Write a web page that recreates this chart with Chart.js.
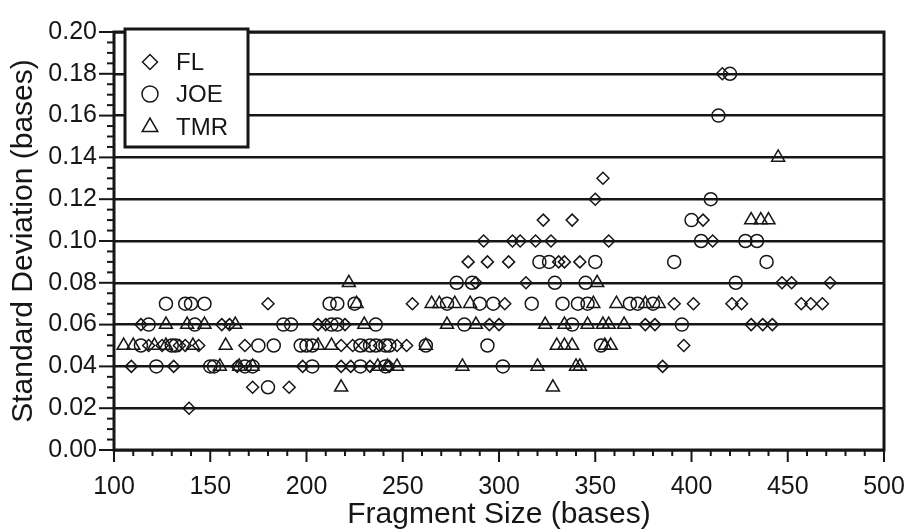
<!DOCTYPE html>
<html>
<head>
<meta charset="utf-8">
<script src="https://cdn.jsdelivr.net/npm/chart.js@4.4.0/dist/chart.umd.min.js"></script>
<style>
  html, body { margin: 0; padding: 0; background: #fff; }
  #wrap { width: 908px; height: 530px; }
</style>
</head>
<body>
<div id="wrap"><canvas id="sdChart"></canvas></div>
<script>
const seriesNames = ['FL', 'JOE', 'TMR'];

// FL - diamonds
const flSize = [139,
  172, 191,
  109, 131, 164, 198, 218, 223, 233, 243, 385,
  118, 125, 134, 137, 144, 168, 218, 224, 230, 238, 247, 252, 396,
  114, 156, 160, 206, 210, 220, 295, 300, 376, 381, 431, 437, 442,
  180, 255, 303, 391, 401, 421, 426, 457, 462, 468,
  288, 314, 447, 452, 472,
  284, 294, 305, 331, 334, 342,
  292, 307, 311, 319, 327, 357, 411,
  323, 338, 406,
  350, 354, 416];
const flSD = [0.02,
  0.03, 0.03,
  0.04, 0.04, 0.04, 0.04, 0.04, 0.04, 0.04, 0.04, 0.04,
  0.05, 0.05, 0.05, 0.05, 0.05, 0.05, 0.05, 0.05, 0.05, 0.05, 0.05, 0.05, 0.05,
  0.06, 0.06, 0.06, 0.06, 0.06, 0.06, 0.06, 0.06, 0.06, 0.06, 0.06, 0.06, 0.06,
  0.07, 0.07, 0.07, 0.07, 0.07, 0.07, 0.07, 0.07, 0.07, 0.07,
  0.08, 0.08, 0.08, 0.08, 0.08,
  0.09, 0.09, 0.09, 0.09, 0.09, 0.09,
  0.10, 0.10, 0.10, 0.10, 0.10, 0.10, 0.10,
  0.11, 0.11, 0.11,
  0.12, 0.13, 0.18];

// JOE - circles
const joeSize = [180,
  122, 150, 152, 168, 172, 203, 228, 241, 302,
  114, 130, 132, 175, 183, 197, 200, 203, 228, 233, 236, 241, 243, 262, 294, 353,
  118, 142, 188, 192, 213, 216, 236, 282, 338, 395,
  127, 137, 140, 147, 212, 216, 225, 273, 290, 297, 317, 333, 341, 346, 368, 372, 380,
  278, 286, 329, 345, 423,
  321, 326, 350, 391, 439,
  405, 428, 434,
  400, 410, 414, 420];
const joeSD = [0.03,
  0.04, 0.04, 0.04, 0.04, 0.04, 0.04, 0.04, 0.04, 0.04,
  0.05, 0.05, 0.05, 0.05, 0.05, 0.05, 0.05, 0.05, 0.05, 0.05, 0.05, 0.05, 0.05, 0.05, 0.05, 0.05,
  0.06, 0.06, 0.06, 0.06, 0.06, 0.06, 0.06, 0.06, 0.06, 0.06,
  0.07, 0.07, 0.07, 0.07, 0.07, 0.07, 0.07, 0.07, 0.07, 0.07, 0.07, 0.07, 0.07, 0.07, 0.07, 0.07, 0.07,
  0.08, 0.08, 0.08, 0.08, 0.08,
  0.09, 0.09, 0.09, 0.09, 0.09,
  0.10, 0.10, 0.10,
  0.11, 0.12, 0.16, 0.18];

// TMR - triangles
const tmrSize = [218, 328,
  155, 165, 172, 237, 242, 247, 281, 320, 340, 342,
  105, 110, 121, 127, 141, 158, 206, 213, 262, 330, 334, 338, 355, 358,
  127, 138, 147, 163, 230, 273, 288, 324, 334, 346, 354, 357, 365,
  226, 265, 269, 277, 285, 349, 361, 376, 383,
  222, 351,
  431, 436, 440,
  445];
const tmrSD = [0.03, 0.03,
  0.04, 0.04, 0.04, 0.04, 0.04, 0.04, 0.04, 0.04, 0.04, 0.04,
  0.05, 0.05, 0.05, 0.05, 0.05, 0.05, 0.05, 0.05, 0.05, 0.05, 0.05, 0.05, 0.05, 0.05,
  0.06, 0.06, 0.06, 0.06, 0.06, 0.06, 0.06, 0.06, 0.06, 0.06, 0.06, 0.06, 0.06,
  0.07, 0.07, 0.07, 0.07, 0.07, 0.07, 0.07, 0.07, 0.07,
  0.08, 0.08,
  0.11, 0.11, 0.11,
  0.14];

const ink = '#161616';
const fontFamily = '"Liberation Sans", Arial, Helvetica, sans-serif';

function pairs(xs, ys) {
  return xs.map((v, i) => ({x: v, y: ys[i]}));
}

const styles = [
  {pointStyle: 'rectRot', radius: 6},
  {pointStyle: 'circle', radius: 6.5},
  {pointStyle: 'triangle', radius: 7.5}
];

// frame, minor ticks and the boxed legend
const decorations = {
  id: 'decorations',
  afterDraw(chart) {
    const {ctx, chartArea: a, scales: {x, y}} = chart;
    ctx.save();
    ctx.strokeStyle = ink;
    ctx.lineWidth = 2;
    for (let v = 0; v <= 200; v += 5) {
      const py = y.getPixelForValue(v / 1000);
      const len = v % 20 === 0 ? 15 : 7;
      ctx.beginPath();
      ctx.moveTo(a.left - len, py);
      ctx.lineTo(a.left, py);
      ctx.stroke();
    }
    for (let v = 100; v <= 500; v += 10) {
      const px = x.getPixelForValue(v);
      const len = v % 50 === 0 ? 12 : 6;
      ctx.beginPath();
      ctx.moveTo(px, a.bottom);
      ctx.lineTo(px, a.bottom + len);
      ctx.stroke();
    }
    ctx.lineWidth = 3;
    ctx.strokeRect(a.left, a.top, a.right - a.left, a.bottom - a.top);

    // legend box
    ctx.fillStyle = '#fff';
    ctx.fillRect(125, 29, 123, 118);
    ctx.lineWidth = 3;
    ctx.strokeRect(125, 29, 123, 118);
    ctx.font = '24px ' + fontFamily;
    ctx.textBaseline = 'middle';
    ctx.textAlign = 'left';
    const rows = [62, 94, 127];
    seriesNames.forEach((name, i) => {
      ctx.fillStyle = 'rgba(0,0,0,0)';
      ctx.strokeStyle = ink;
      ctx.lineWidth = 1.5;
      Chart.helpers.drawPoint(ctx, {
        pointStyle: styles[i].pointStyle,
        radius: styles[i].radius + 1.5,
        borderWidth: 1.5,
        rotation: 0
      }, 150, rows[i]);
      ctx.fillStyle = ink;
      ctx.fillText(name, 176, rows[i] + 1);
    });
    ctx.restore();
  }
};

const datasets = [
  pairs(flSize, flSD),
  pairs(joeSize, joeSD),
  pairs(tmrSize, tmrSD)
].map((data, i) => ({
  label: seriesNames[i],
  data: data,
  pointStyle: styles[i].pointStyle,
  pointRadius: styles[i].radius,
  pointHoverRadius: styles[i].radius,
  pointBorderWidth: 1.5,
  borderColor: ink,
  backgroundColor: 'rgba(0,0,0,0)',
  showLine: false
}));

new Chart(document.getElementById('sdChart'), {
  type: 'scatter',
  data: {datasets: datasets},
  options: {
    responsive: true,
    maintainAspectRatio: false,
    animation: false,
    layout: {padding: {top: 21, right: 24, left: 0, bottom: 0}},
    plugins: {
      legend: {display: false},
      tooltip: {enabled: false}
    },
    scales: {
      x: {
        type: 'linear',
        min: 100,
        max: 500,
        afterFit: s => {
          s.height = 80;
          s.paddingLeft = 0;
          s.paddingRight = 0;
        },
        border: {display: false},
        grid: {display: false, drawTicks: false},
        ticks: {
          stepSize: 50,
          padding: 22,
          color: ink,
          font: {family: fontFamily, size: 25},
          maxRotation: 0
        },
        title: {
          display: true,
          text: 'Fragment Size (bases)',
          color: ink,
          font: {family: fontFamily, size: 30, lineHeight: 1},
          padding: {top: 0, bottom: 0}
        }
      },
      y: {
        min: 0,
        max: 0.2,
        afterFit: s => { s.width = 114; },
        border: {display: false},
        grid: {
          drawTicks: false,
          color: ink,
          lineWidth: 2.5
        },
        ticks: {
          stepSize: 0.02,
          padding: 17,
          color: ink,
          font: {family: fontFamily, size: 25},
          callback: v => v.toFixed(2)
        },
        title: {
          display: true,
          text: 'Standard Deviation (bases)',
          color: ink,
          font: {family: fontFamily, size: 30, lineHeight: 1},
          padding: {top: 9, bottom: 0}
        }
      }
    }
  },
  plugins: [decorations]
});
</script>
</body>
</html>
